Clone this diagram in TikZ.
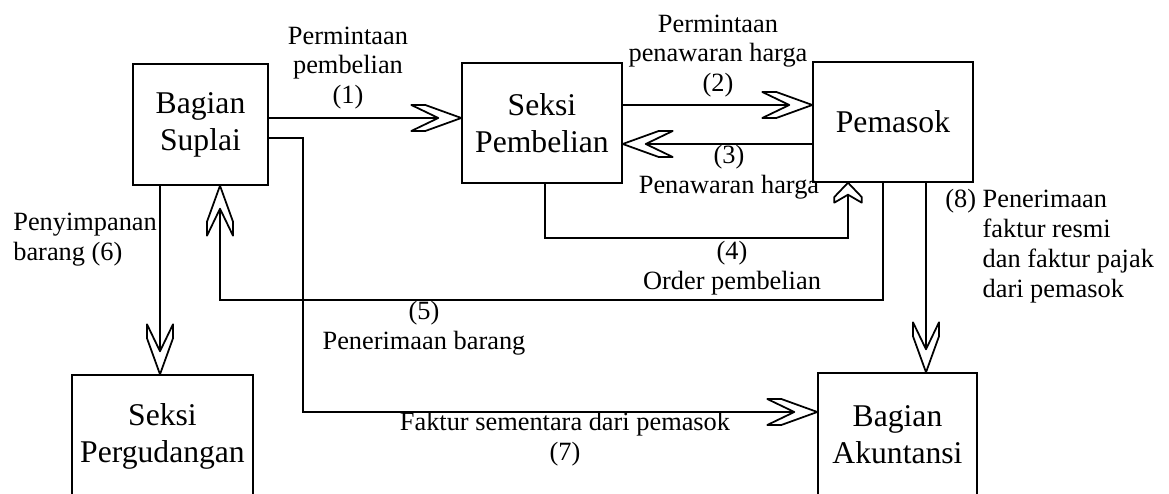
\documentclass[tikz,border=0pt]{standalone}
\usepackage{fontspec}
\setmainfont{Liberation Serif}
\usetikzlibrary{
  arrows.meta,
  positioning
}

% open chevron tip with flat ends
\pgfdeclarearrow{
  name = Chevron,
  parameters = {\the\pgfarrowlength,\the\pgfarrowwidth,\the\pgfarrowinset},
  setup code = {
    \pgfarrowssettipend{0pt}
    \pgfarrowssetlineend{-\pgfarrowinset}
    \pgfarrowssetbackend{-\pgfarrowlength}
    \pgfarrowssetvisualbackend{-\pgfarrowlength}
    \pgfarrowsupperhullpoint{-\pgfarrowlength}{.5\pgfarrowwidth}
    \pgfarrowsupperhullpoint{0pt}{0pt}
    \pgfarrowssavethe\pgfarrowlength
    \pgfarrowssavethe\pgfarrowwidth
    \pgfarrowssavethe\pgfarrowinset
  },
  drawing code = {
    \pgfsetroundjoin
    \pgfpathmoveto{\pgfpoint{-.72\pgfarrowlength}{.5\pgfarrowwidth}}
    \pgfpathlineto{\pgfpoint{0pt}{0pt}}
    \pgfpathlineto{\pgfpoint{-.72\pgfarrowlength}{-.5\pgfarrowwidth}}
    \pgfpathlineto{\pgfpoint{-\pgfarrowlength}{-.5\pgfarrowwidth}}
    \pgfpathlineto{\pgfpoint{-\pgfarrowinset}{0pt}}
    \pgfpathlineto{\pgfpoint{-\pgfarrowlength}{.5\pgfarrowwidth}}
    \pgfpathclose
    \pgfusepathqstroke
  },
  defaults = {length=1cm, width=0.5cm, inset=0.46cm}
}

\begin{document}
\begin{tikzpicture}[
  unitbox/.style={
    draw,
    line width=0.8pt,
    align=center,
    inner sep=0pt,
    font=\fontsize{18}{21}\selectfont
  },
  flowlabel/.style={
    align=center,
    inner sep=0pt,
    font=\fontsize{15}{17}\selectfont
  },
  flow/.style={
    line width=1pt,
    -{Chevron[length=1cm, width=0.52cm, inset=0.46cm]}
  },
  shortflow/.style={
    line width=1pt,
    -{Chevron[length=0.4cm, width=0.55cm, inset=0.24cm]}
  }
]
  \useasboundingbox (0,0) rectangle (23.38,9.88);
  \clip (0,0) rectangle (23.38,9.88);

  % Unit Nodes
  \node[unitbox, minimum width=2.7cm, minimum height=2.42cm] (suplai) at (4.01, 7.39) {Bagian\\Suplai};
  \node[unitbox, minimum width=3.2cm, minimum height=2.4cm] (pembelian) at (10.84, 7.42) {Seksi\\Pembelian};
  \node[unitbox, minimum width=3.2cm, minimum height=2.4cm] (pemasok) at (17.86, 7.44) {Pemasok};
  \node[unitbox, minimum width=3.62cm, minimum height=2.44cm] (gudang) at (3.25, 1.16) {Seksi\\Pergudangan};
  \node[unitbox, minimum width=3.18cm, minimum height=2.48cm] (akuntansi) at (17.95, 1.18) {Bagian\\Akuntansi};

  % Turning Points
  \coordinate (ordery) at (0, 5.12);
  \coordinate (receipty) at (0, 3.88);
  \coordinate (invoicex) at (6.06, 0);
  \coordinate (invoicey) at (0, 1.64);

  % Flows (1) - (8)
  \draw[flow] ([yshift=0.13cm]suplai.east) -- ([yshift=0.13cm]suplai.east -| pembelian.west);
  \draw[flow] ([yshift=0.36cm]pembelian.east) -- ([yshift=0.36cm]pembelian.east -| pemasok.west);
  \draw[flow] ([yshift=-0.44cm]pemasok.west) -- ([yshift=-0.44cm]pemasok.west -| pembelian.east);
  \draw[shortflow] ([xshift=0.06cm]pembelian.south) |- ([xshift=-0.9cm]pemasok.south |- ordery)
    -- ([xshift=-0.9cm]pemasok.south);
  \draw[flow] ([xshift=-0.2cm]pemasok.south) |- ([xshift=0.39cm]suplai.south |- receipty)
    -- ([xshift=0.39cm]suplai.south);
  \draw[flow] ([xshift=-0.81cm]suplai.south) -- ([xshift=-0.81cm]suplai.south |- gudang.north);
  \draw[flow] ([yshift=-0.27cm]suplai.east) -| (invoicex |- invoicey) -- (invoicey -| akuntansi.west);
  \draw[flow] ([xshift=0.66cm]pemasok.south) -- ([xshift=0.66cm]pemasok.south |- akuntansi.north);

  % Flow Labels
  \node[flowlabel] (lbl1) at (6.96, 8.52) {Permintaan\\pembelian\\(1)};
  \node[flowlabel] (lbl2) at (14.36, 8.76) {Permintaan\\penawaran harga\\(2)};
  \node[flowlabel] (lbl3) at (14.58, 6.44) {(3)\\Penawaran harga};
  \node[flowlabel] (lbl4) at (14.64, 4.52) {(4)\\Order pembelian};
  \node[flowlabel] (lbl5) at (8.48, 3.32) {(5)\\Penerimaan barang};
  \node[flowlabel, align=left, anchor=west] (lbl6) at (0.26, 5.08) {Penyimpanan\\barang (6)};
  \node[flowlabel] (lbl7) at (11.3, 1.1) {Faktur sementara dari pemasok\\(7)};
  \node[flowlabel, align=left, anchor=west] (lbl8) at (18.9, 4.96)
    {(8) Penerimaan\\\phantom{(8) }faktur resmi\\\phantom{(8) }dan faktur pajak\\\phantom{(8) }dari pemasok};
\end{tikzpicture}
\end{document}
